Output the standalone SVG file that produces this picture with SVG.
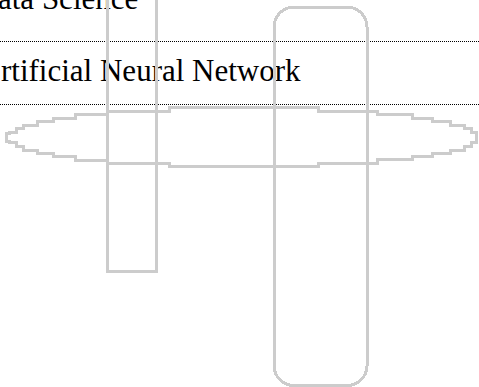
<svg xmlns="http://www.w3.org/2000/svg" width="479" height="387" viewBox="0 0 479 387">
<style>
.lbl{font-family:"Liberation Serif","Times New Roman",serif;font-size:31px;fill:#000}
.guide{stroke:#000;stroke-width:1;stroke-dasharray:1 1;fill:none}
.shape{fill:none;stroke:#cccccc;stroke-width:3;shape-rendering:crispEdges}
</style>
<rect x="0" y="0" width="479" height="387" fill="#fff"/>
<g id="guides">
<line class="guide" x1="0" y1="41.5" x2="479" y2="41.5"/>
<line class="guide" x1="0" y1="104.5" x2="479" y2="104.5"/>
</g>
<g id="labels">
<text class="lbl" x="-2" y="9">ata Science</text>
<text class="lbl" x="1" y="81">rtificial Neural Network</text>
</g>
<g id="ellipse-node">
<path class="shape" d="M6.5,141 V133.5 H9 V132.3 H16 V128.5 H23 V125 H37 V121.7 H53 V118 H75 V114.7 H107 V111.3 H169 V107.7 H318 V111.3 H377 V114.7 H412 V118 H432 V121.7 H450 V125 H464 V128.7 H471 V132.3 H476.5 V142.5 H471 V146.5 H464 V150 H450 V153 H432 V156.3 H412 V159.7 H377 V163.3 H318 V166.7 H169 V163.5 H107 V160.3 H75 V156.7 H53 V153.3 H37 V150 H23 V146.2 H16 V142.3 H9 V141 Z"/>
</g>
<g id="rect-node">
<rect class="shape" x="107.5" y="-10" width="49" height="281"/>
</g>
<g id="rounded-node">
<rect class="shape" x="274" y="7" width="93" height="378.5" rx="20" ry="20"/>
</g>
<g id="connectors"></g>
</svg>
